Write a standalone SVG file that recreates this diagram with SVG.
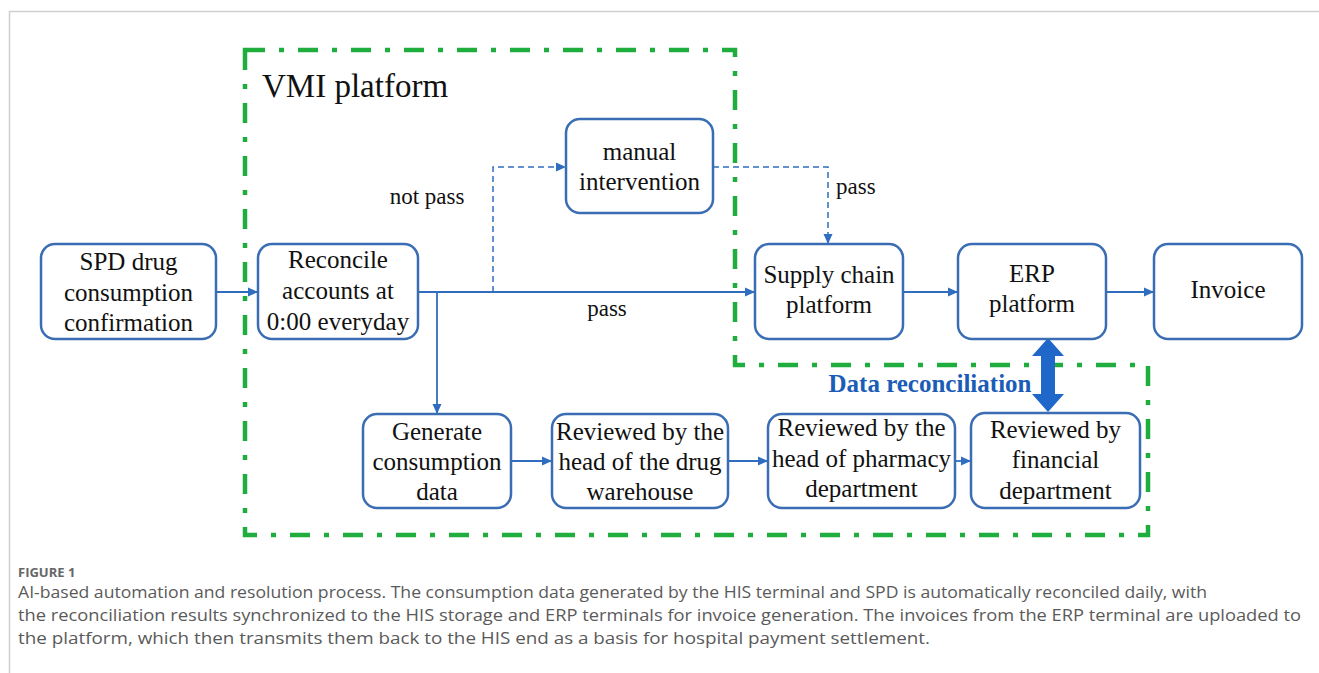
<svg xmlns="http://www.w3.org/2000/svg" width="1319" height="673" viewBox="0 0 1319 673">
<style>
.box{fill:#fff;stroke:#3b6db4;stroke-width:2.5}
.t{font-family:"Liberation Serif","Times New Roman",serif;font-size:25px;fill:#111;text-anchor:middle}
.c{fill:none;stroke:#2f6dbf;stroke-width:1.8}
.d{fill:none;stroke:#2f6dbf;stroke-width:1.5;stroke-dasharray:6 4}
.g{fill:none;stroke:#1fae3e;stroke-width:4.5;stroke-dasharray:20 14 5 14}
.cap{font-family:"Open Sans",Lato,sans-serif;font-size:16px;fill:#5a5a5a}
</style>
<defs>
<marker id="ah" markerWidth="10" markerHeight="10" refX="9" refY="5" orient="auto" markerUnits="userSpaceOnUse">
<path d="M0,0.5 L10,5 L0,9.5 Z" fill="#2f6dbf"/>
</marker>
</defs>
<rect width="1319" height="673" fill="#fff"/>
<path d="M9.5,673 V11.5 H1319" fill="none" stroke="#cfcfcf" stroke-width="1.5"/>

<g id="vmi-boundary">
<path class="g" d="M245,50 H735 V365 H1148 V535 H245 Z"/>
<text x="262" y="97" font-family="Liberation Serif,serif" font-size="33" fill="#111">VMI platform</text>
</g>

<g id="connectors">
<line class="c" x1="216" y1="292" x2="257" y2="292" marker-end="url(#ah)"/>
<line class="c" x1="418" y1="292" x2="754" y2="292" marker-end="url(#ah)"/>
<path class="d" d="M493,292 V167 H565" marker-end="url(#ah)"/>
<path class="d" d="M713,167 H828 V243" marker-end="url(#ah)"/>
<path class="c" d="M437,292 V413" marker-end="url(#ah)"/>
<line class="c" x1="903" y1="292" x2="957" y2="292" marker-end="url(#ah)"/>
<line class="c" x1="1106" y1="292" x2="1153" y2="292" marker-end="url(#ah)"/>
<line class="c" x1="511" y1="461" x2="551" y2="461" marker-end="url(#ah)"/>
<line class="c" x1="728" y1="461" x2="767" y2="461" marker-end="url(#ah)"/>
<line class="c" x1="955" y1="461" x2="970" y2="461" marker-end="url(#ah)"/>
<text x="427" y="204" class="t" style="font-size:23px">not pass</text>
<text x="607" y="316" class="t" style="font-size:23px">pass</text>
<text x="836" y="194" class="t" style="font-size:23px;text-anchor:start">pass</text>
<path d="M1048,338 L1064,356 L1055,356 L1055,394 L1064,394 L1048,412 L1032,394 L1041,394 L1041,356 L1032,356 Z" fill="#1f68c9"/>
<text x="930" y="392" font-family="Liberation Serif,serif" font-size="25" font-weight="bold" fill="#1a5cb8" text-anchor="middle">Data reconciliation</text>
</g>

<g id="spd">
<rect class="box" x="41" y="244" width="175" height="95" rx="14"/>
<text class="t" x="128.5" y="270">SPD drug</text>
<text class="t" x="128.5" y="301">consumption</text>
<text class="t" x="128.5" y="331">confirmation</text>
</g>
<g id="reconcile">
<rect class="box" x="258" y="244" width="160" height="95" rx="14"/>
<text class="t" x="338" y="268">Reconcile</text>
<text class="t" x="338" y="299">accounts at</text>
<text class="t" x="338" y="330">0:00 everyday</text>
</g>
<g id="manual">
<rect class="box" x="566" y="119" width="147" height="94" rx="14"/>
<text class="t" x="639.5" y="160">manual</text>
<text class="t" x="639.5" y="190">intervention</text>
</g>
<g id="supply">
<rect class="box" x="755" y="244" width="148" height="95" rx="14"/>
<text class="t" x="829" y="283">Supply chain</text>
<text class="t" x="829" y="313">platform</text>
</g>
<g id="erp">
<rect class="box" x="958" y="244" width="148" height="95" rx="14"/>
<text class="t" x="1032" y="282">ERP</text>
<text class="t" x="1032" y="312">platform</text>
</g>
<g id="invoice">
<rect class="box" x="1154" y="244" width="148" height="95" rx="14"/>
<text class="t" x="1228" y="298">Invoice</text>
</g>
<g id="generate">
<rect class="box" x="363" y="414" width="148" height="94" rx="14"/>
<text class="t" x="437" y="440">Generate</text>
<text class="t" x="437" y="470">consumption</text>
<text class="t" x="437" y="500">data</text>
</g>
<g id="warehouse">
<rect class="box" x="552" y="414" width="176" height="94" rx="14"/>
<text class="t" x="640" y="440">Reviewed by the</text>
<text class="t" x="640" y="470">head of the drug</text>
<text class="t" x="640" y="500">warehouse</text>
</g>
<g id="pharmacy">
<rect class="box" x="768" y="414" width="187" height="94" rx="14"/>
<text class="t" x="861.5" y="436">Reviewed by the</text>
<text class="t" x="861.5" y="467">head of pharmacy</text>
<text class="t" x="861.5" y="497">department</text>
</g>
<g id="financial">
<rect class="box" x="971" y="413" width="169" height="95" rx="14"/>
<text class="t" x="1055.5" y="438">Reviewed by</text>
<text class="t" x="1055.5" y="468">financial</text>
<text class="t" x="1055.5" y="499">department</text>
</g>

<g id="caption">
<text x="18" y="577" font-family="'Open Sans',Lato,sans-serif" font-size="13" font-weight="bold" fill="#666">FIGURE 1</text>
<text class="cap" x="18" y="598" textLength="1189" lengthAdjust="spacingAndGlyphs">AI-based automation and resolution process. The consumption data generated by the HIS terminal and SPD is automatically reconciled daily, with</text>
<text class="cap" x="18" y="621" textLength="1283" lengthAdjust="spacingAndGlyphs">the reconciliation results synchronized to the HIS storage and ERP terminals for invoice generation. The invoices from the ERP terminal are uploaded to</text>
<text class="cap" x="18" y="644" textLength="912" lengthAdjust="spacingAndGlyphs">the platform, which then transmits them back to the HIS end as a basis for hospital payment settlement.</text>
</g>
</svg>
